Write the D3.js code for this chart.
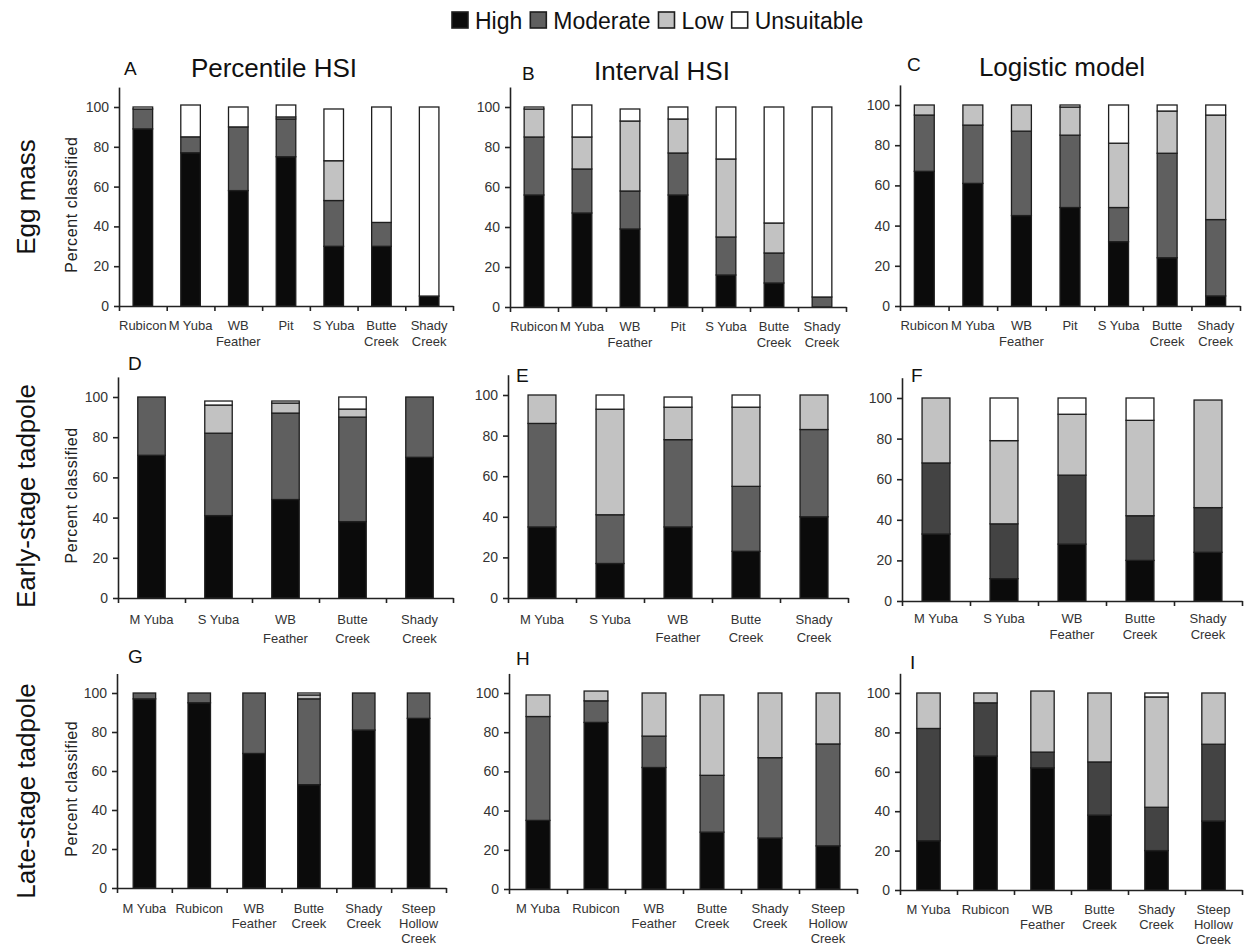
<!DOCTYPE html>
<html>
<head>
<meta charset="utf-8">
<script src="https://cdn.jsdelivr.net/npm/d3@7"></script>
<style>
body { margin: 0; background: #fff; }
text { font-family: Arial, "Liberation Sans", sans-serif; }
</style>
</head>
<body>
<div id="chart"></div>
<script>
// classes, bottom to top
var series = ["High", "Moderate", "Low", "Unsuitable"];

var eggSites = ["Rubicon", "M Yuba", "WB\nFeather", "Pit", "S Yuba", "Butte\nCreek", "Shady\nCreek"];
var earlySites = ["M Yuba", "S Yuba", "WB\nFeather", "Butte\nCreek", "Shady\nCreek"];
var lateSites = ["M Yuba", "Rubicon", "WB\nFeather", "Butte\nCreek", "Shady\nCreek", "Steep\nHollow\nCreek"];

// each row: [High, Moderate, Low, Unsuitable] percent
var eggPercentile = [[89,10,0,1],[77,8,0,16],[58,32,0,10],[75,19,1,6],[30,23,20,26],[30,12,0,58],[5,0,0,95]];
var eggInterval   = [[56,29,14,1],[47,22,16,16],[39,19,35,6],[56,21,17,6],[16,19,39,26],[12,15,15,58],[0,5,0,95]];
var eggLogistic   = [[67,28,5,0],[61,29,10,0],[45,42,13,0],[49,36,14,1],[32,17,32,19],[24,52,21,3],[5,38,52,5]];

var earlyPercentile = [[71,29,0,0],[41,41,14,2],[49,43,5,1],[38,52,4,6],[70,30,0,0]];
var earlyInterval   = [[35,51,14,0],[17,24,52,7],[35,43,16,5],[23,32,39,6],[40,43,17,0]];
var earlyLogistic   = [[33,35,32,0],[11,27,41,21],[28,34,30,8],[20,22,47,11],[24,22,53,0]];

var latePercentile = [[97,3,0,0],[95,5,0,0],[69,31,0,0],[53,44,2,1],[81,19,0,0],[87,13,0,0]];
var lateInterval   = [[35,53,11,0],[85,11,5,0],[62,16,22,0],[29,29,41,0],[26,41,33,0],[22,52,26,0]];
var lateLogistic   = [[25,57,18,0],[68,27,5,0],[62,8,31,0],[38,27,35,0],[20,22,56,2],[35,39,26,0]];

var yTicks = [0, 20, 40, 60, 80, 100];
var rowNames = ["Egg mass", "Early-stage tadpole", "Late-stage tadpole"];
var colTitles = ["Percentile HSI", "Interval HSI", "Logistic model"];

var w = 1249, h = 947;
var fills = {High: "#0b0b0b", Moderate: "#5f5f5f", Low: "#c2c2c2", Unsuitable: "#ffffff"};

var svg = d3.select("#chart").append("svg")
    .attr("width", w)
    .attr("height", h);

// layout of the nine panels
var panels = [
  {id: "A", data: eggPercentile, sites: eggSites, x0: 119, x1: 453, y0: 306, y100: 107, lx: 124, ly: 75, lab: 330, lh: 16},
  {id: "B", data: eggInterval, sites: eggSites, x0: 510, x1: 846, y0: 307, y100: 107, lx: 522, ly: 80, lab: 331, lh: 16},
  {id: "C", data: eggLogistic, sites: eggSites, x0: 900, x1: 1240, y0: 306, y100: 105, lx: 907, ly: 71, lab: 330, lh: 16},
  {id: "D", data: earlyPercentile, sites: earlySites, x0: 118, x1: 453, y0: 598, y100: 397, lx: 128, ly: 370, lab: 624, lh: 19},
  {id: "E", data: earlyInterval, sites: earlySites, x0: 508, x1: 848, y0: 598, y100: 395, lx: 516, ly: 382, lab: 624, lh: 18},
  {id: "F", data: earlyLogistic, sites: earlySites, x0: 902, x1: 1242, y0: 601, y100: 398, lx: 911, ly: 382, lab: 623, lh: 16, dark: true},
  {id: "G", data: latePercentile, sites: lateSites, x0: 117, x1: 446, y0: 888, y100: 693, lx: 128, ly: 663, lab: 913, lh: 15},
  {id: "H", data: lateInterval, sites: lateSites, x0: 509, x1: 857, y0: 889, y100: 693, lx: 516, ly: 665, lab: 913, lh: 15},
  {id: "I", data: lateLogistic, sites: lateSites, x0: 900, x1: 1242, y0: 890, y100: 693, lx: 910, ly: 669, lab: 914, lh: 15, dark: true}
];
var titlePos = [{x: 274, y: 77}, {x: 662, y: 80}, {x: 1062, y: 76}];

var stack = d3.stack()
    .keys(series)
    .value(function(d, k) { return d[series.indexOf(k)]; });

panels.forEach(function(p, pi) {
  var n = p.sites.length;
  var g = svg.append("g");

  var x = d3.scaleBand()
      .domain(d3.range(n))
      .range([p.x0, p.x1])
      .paddingInner(0.59)
      .paddingOuter(0.295);
  var xb = d3.scaleLinear().domain([0, n]).range([p.x0, p.x1]);
  var y = d3.scaleLinear()
      .domain([0, 110])
      .range([p.y0, p.y0 - 1.1 * (p.y0 - p.y100)]);

  var layers = stack(p.data);
  g.selectAll(".layer")
    .data(layers)
    .enter().append("g")
    .attr("class", "layer")
    .attr("fill", function(d) {
      if (d.key == "Moderate" && p.dark) return "#434343";
      return fills[d.key];
    })
    .selectAll("rect")
    .data(function(d) { return d.map(function(v, i) { return {i: i, v0: v[0], v1: v[1]}; }).filter(function(s) { return s.v1 > s.v0; }); })
    .enter().append("rect")
    .attr("x", function(d) { return x(d.i); })
    .attr("width", x.bandwidth())
    .attr("y", function(d) { return y(d.v1); })
    .attr("height", function(d) { return y(d.v0) - y(d.v1); })
    .attr("stroke", "#1e1e1e")
    .attr("stroke-width", 1.3);

  // y axis
  var ya = g.append("g")
      .attr("transform", "translate(" + p.x0 + ",0)")
      .call(d3.axisLeft(y).tickValues(yTicks).tickSize(5).tickSizeOuter(0).tickPadding(5));
  ya.selectAll("text").attr("font-size", 14).attr("fill", "#333").attr("font-family", null);

  // x axis with ticks at category boundaries
  var xa = g.append("g")
      .attr("transform", "translate(0," + p.y0 + ")")
      .call(d3.axisBottom(xb).tickValues(d3.range(n + 1)).tickFormat("").tickSize(5).tickSizeOuter(0));

  g.selectAll(".domain, .tick line").attr("stroke", "#222").attr("stroke-width", 1.6);

  // site labels
  var lab = g.selectAll(".site")
    .data(p.sites)
    .enter().append("text")
    .attr("class", "site")
    .attr("text-anchor", "middle")
    .attr("font-size", 13)
    .attr("fill", "#333");
  lab.each(function(s, i) {
    var t = d3.select(this);
    s.split("\n").forEach(function(line, j) {
      t.append("tspan")
        .attr("x", x(i) + x.bandwidth() / 2)
        .attr("y", p.lab + j * p.lh)
        .text(line);
    });
  });

  // panel letter
  g.append("text")
    .attr("x", p.lx)
    .attr("y", p.ly)
    .attr("font-size", 19)
    .attr("fill", "#111")
    .text(p.id);

  if (pi % 3 == 0) {
    g.append("text")
      .attr("transform", "translate(" + 77 + "," + ((p.y0 + y(110)) / 2 + 8) + ") rotate(-90)")
      .attr("text-anchor", "middle")
      .attr("font-size", 16)
      .attr("letter-spacing", 0.6)
      .attr("fill", "#222")
      .text("Percent classified");
  }
});

// column titles
svg.selectAll(".coltitle")
  .data(colTitles)
  .enter().append("text")
  .attr("class", "coltitle")
  .attr("x", function(d, i) { return titlePos[i].x; })
  .attr("y", function(d, i) { return titlePos[i].y; })
  .attr("text-anchor", "middle")
  .attr("font-size", 26)
  .attr("fill", "#111")
  .text(function(d) { return d; });

// row names
var rowY = [197, 496, 791];
svg.selectAll(".rowname")
  .data(rowNames)
  .enter().append("text")
  .attr("class", "rowname")
  .attr("transform", function(d, i) { return "translate(35," + rowY[i] + ") rotate(-90)"; })
  .attr("text-anchor", "middle")
  .attr("font-size", 26)
  .attr("fill", "#111")
  .text(function(d) { return d; });

// legend
var lg = svg.append("g");
var lx = 452;
series.forEach(function(s) {
  lg.append("rect")
    .attr("x", lx)
    .attr("y", 12)
    .attr("width", 16)
    .attr("height", 16)
    .attr("fill", fills[s])
    .attr("stroke", "#1e1e1e")
    .attr("stroke-width", 1.6);
  var t = lg.append("text")
    .attr("x", lx + 23)
    .attr("y", 29)
    .attr("font-size", 23)
    .attr("fill", "#111")
    .text(s);
  lx = lx + 23 + t.node().getComputedTextLength() + 8;
});
</script>
</body>
</html>
